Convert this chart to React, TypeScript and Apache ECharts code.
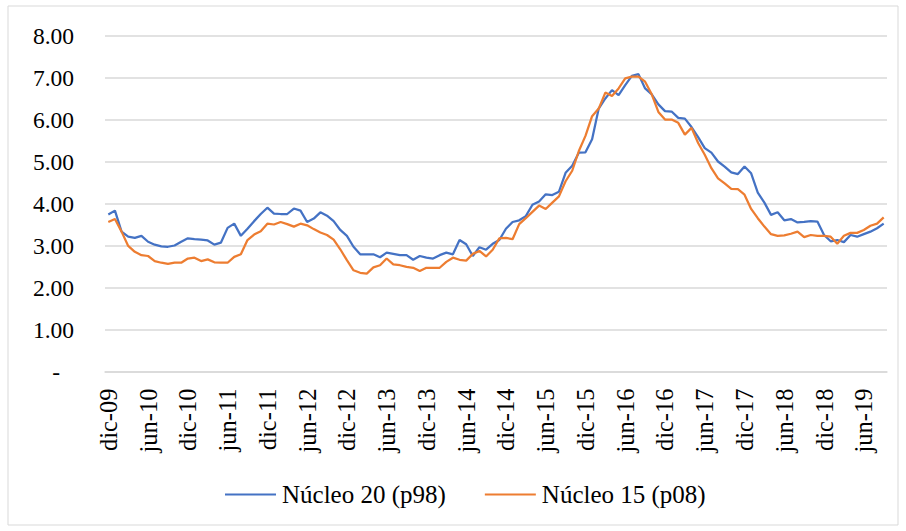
import React, { useEffect, useRef } from "react";
import * as echarts from "echarts";

const MONTHS = ["ene", "feb", "mar", "abr", "may", "jun", "jul", "ago", "sep", "oct", "nov", "dic"];
// Monthly categories from dic-09 to sep-19
const categories: string[] = [];
for (let k = 0; k < 118; k++) {
  const m = (11 + k) % 12;
  const y = 9 + Math.floor((11 + k) / 12);
  categories.push(`${MONTHS[m]}-${String(y).padStart(2, "0")}`);
}

const nucleo20 = [
  3.74, 3.83, 3.33, 3.21, 3.18, 3.23, 3.09, 3.02, 2.98, 2.97, 3.0, 3.09,
  3.17, 3.15, 3.14, 3.12, 3.02, 3.07, 3.42, 3.52, 3.23, 3.4, 3.58, 3.75,
  3.9, 3.76, 3.75, 3.75, 3.88, 3.83, 3.56, 3.64, 3.79, 3.71, 3.58, 3.37,
  3.23, 2.97, 2.79, 2.79, 2.79, 2.72, 2.83, 2.8, 2.77, 2.77, 2.66, 2.75,
  2.71, 2.69, 2.77, 2.83, 2.79, 3.13, 3.03, 2.75, 2.96, 2.9, 3.04, 3.13,
  3.4, 3.56, 3.6, 3.7, 3.97, 4.05, 4.22, 4.2, 4.28, 4.73, 4.9, 5.21,
  5.22, 5.53, 6.26, 6.5, 6.7, 6.58, 6.82, 7.04, 7.08, 6.74, 6.6, 6.36,
  6.2, 6.19, 6.04, 6.02, 5.82, 5.58, 5.32, 5.21, 5.0, 4.88, 4.74, 4.7,
  4.88, 4.72, 4.26, 4.02, 3.73, 3.79, 3.6, 3.63, 3.55, 3.56, 3.58, 3.57,
  3.25, 3.1, 3.13, 3.08, 3.25, 3.21, 3.27, 3.33, 3.41, 3.52,
];

const nucleo15 = [
  3.56, 3.63, 3.33, 2.99, 2.85, 2.77, 2.75, 2.63, 2.59, 2.56, 2.59, 2.59,
  2.69, 2.71, 2.63, 2.67, 2.6, 2.59, 2.59, 2.73, 2.79, 3.13, 3.26, 3.34,
  3.52, 3.5, 3.56, 3.51, 3.45, 3.52, 3.48, 3.39, 3.31, 3.25, 3.14, 2.91,
  2.65, 2.41, 2.35, 2.33, 2.48, 2.53, 2.69, 2.55, 2.53, 2.49, 2.47, 2.39,
  2.47, 2.47, 2.47, 2.61, 2.71, 2.66, 2.64, 2.8, 2.87, 2.74, 2.9, 3.17,
  3.18, 3.15, 3.51, 3.65, 3.8, 3.95, 3.87, 4.02, 4.17, 4.53, 4.78, 5.25,
  5.61, 6.08, 6.26, 6.64, 6.56, 6.74, 6.98, 7.02, 7.02, 6.9, 6.6, 6.18,
  6.0, 6.0, 5.92, 5.64, 5.8, 5.44, 5.16, 4.84, 4.6, 4.48, 4.35, 4.34,
  4.21, 3.87, 3.65, 3.45, 3.27, 3.23, 3.24, 3.28, 3.33, 3.2, 3.25, 3.23,
  3.23, 3.21, 3.04, 3.23, 3.3, 3.3, 3.37, 3.47, 3.52, 3.67,
];

const seriesNames = ["Núcleo 20 (p98)", "Núcleo 15 (p08)"];
const FONT = "'Liberation Serif', 'Times New Roman', serif";

export default function App() {
  const ref = useRef<HTMLDivElement>(null);
  useEffect(() => {
    if (!ref.current) return;
    const chart = echarts.init(ref.current, undefined, { renderer: "svg" });
    chart.setOption({
      animation: false,
      backgroundColor: "#ffffff",
      textStyle: { fontFamily: FONT },
      graphic: [
        {
          type: "rect",
          shape: { x: 8, y: 6, width: 890, height: 519 },
          style: { fill: "none", stroke: "#D9D9D9", lineWidth: 1 },
          silent: true,
        },
      ],
      grid: { left: 105, right: 19, top: 35.5, bottom: 159.5, containLabel: false },
      legend: {
        left: 225,
        top: 482,
        padding: 0,
        itemWidth: 51,
        itemHeight: 2,
        itemGap: 39,
        icon: "rect",
        textStyle: { fontFamily: FONT, fontSize: 25, color: "#000", padding: [0, 0, 0, 1] },
        data: seriesNames,
      },
      xAxis: {
        type: "category",
        data: categories,
        boundaryGap: true,
        axisLine: { lineStyle: { color: "#D9D9D9", width: 1.5 } },
        axisTick: { interval: 5, length: 7, lineStyle: { color: "#D9D9D9", width: 1.5 } },
        axisLabel: {
          interval: 5,
          rotate: 90,
          margin: 17,
          fontFamily: FONT,
          fontSize: 24.5,
          color: "#000",
        },
        splitLine: { show: false },
      },
      yAxis: {
        type: "value",
        min: 0,
        max: 8,
        interval: 1,
        axisLine: { show: false },
        axisTick: { show: false },
        axisLabel: {
          margin: 31,
          fontFamily: FONT,
          fontSize: 23.5,
          color: "#000",
          formatter: (v: number) => (v === 0 ? "{d|-}" : v.toFixed(2)),
          rich: { d: { fontFamily: FONT, fontSize: 23.5, color: "#000", padding: [0, 14, 0, 0] } },
        },
        splitLine: { lineStyle: { color: "#D9D9D9", width: 1.5 } },
      },
      series: [
        {
          name: seriesNames[0],
          type: "line",
          data: nucleo20,
          symbol: "none",
          lineStyle: { color: "#4472C4", width: 2.25 },
          itemStyle: { color: "#4472C4" },
        },
        {
          name: seriesNames[1],
          type: "line",
          data: nucleo15,
          symbol: "none",
          lineStyle: { color: "#ED7D31", width: 2.25 },
          itemStyle: { color: "#ED7D31" },
        },
      ],
    });
    return () => chart.dispose();
  }, []);
  return (
    <div
      ref={ref}
      style={{ position: "absolute", left: 0, top: 0, width: 906, height: 531 }}
    />
  );
}
